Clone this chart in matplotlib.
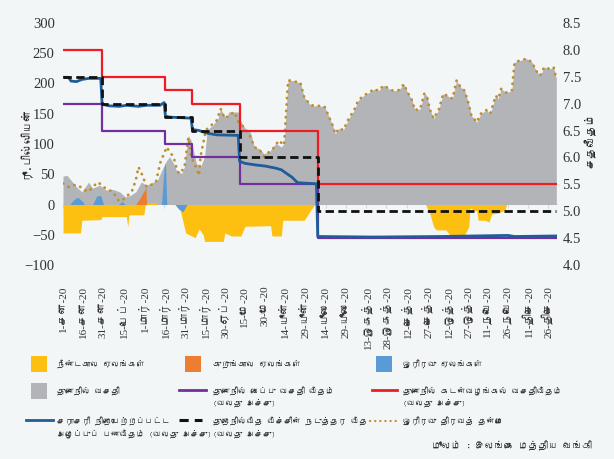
import matplotlib
matplotlib.use('Agg')
import matplotlib.pyplot as plt
from matplotlib import font_manager
from matplotlib.ft2font import FT2Font
from matplotlib.lines import Line2D
from matplotlib.patches import Rectangle
import numpy as np
import pandas as pd


def find_tamil_font():
    # look for any installed face that has Tamil glyphs
    for f in font_manager.fontManager.ttflist:
        try:
            if 0x0BA4 in FT2Font(f.fname).get_charmap():
                return f.name
        except Exception:
            continue
    return None


TAMIL = find_tamil_font()
SANS = ([TAMIL] if TAMIL else []) + ['DejaVu Sans']
SERIF = ['Liberation Serif'] + ([TAMIL] if TAMIL else []) + ['DejaVu Sans']

# ---- data (days counted from 1 Jan 2020) ----
standing_days = [0, 3, 6, 10, 14, 19, 22, 27, 32, 37, 42, 46, 50, 54, 58, 62, 67, 70, 74, 77,
                 79, 82, 84, 88, 90, 93, 95, 99, 102, 105, 107, 111, 115, 117, 121, 123, 130, 132, 136, 139,
                 142, 146, 149, 153, 158, 162, 164, 167, 170, 174, 176, 179, 183, 186, 190, 194, 197, 200, 202, 205,
                 208, 212, 216, 219, 223, 227, 231, 234, 238, 242, 245, 249, 253, 255, 259, 261, 265, 268, 270, 272,
                 275, 279, 282, 285, 289, 292, 295, 298, 301, 303, 307, 310, 314, 317, 321, 323, 325, 329, 333, 335,
                 339, 344, 348, 351, 354, 357, 361, 364, 366]
standing_vals = [47, 48, 40, 29, 21, 37, 27, 32, 24, 25, 21, 13, 15, 21, 37, 32, 37, 40, 60, 73,
                 79, 68, 57, 51, 62, 114, 106, 68, 62, 79, 123, 131, 142, 158, 142, 153, 153, 137, 123, 120,
                 95, 92, 84, 87, 101, 95, 101, 205, 205, 202, 202, 177, 166, 163, 163, 162, 147, 131, 117, 126,
                 123, 142, 156, 172, 180, 185, 191, 188, 197, 191, 188, 189, 199, 188, 172, 156, 158, 183, 180, 158,
                 142, 158, 183, 180, 175, 205, 194, 188, 166, 147, 136, 150, 156, 150, 180, 175, 191, 185, 188, 235,
                 238, 241, 235, 221, 213, 227, 224, 227, 208]

# overnight liquidity before mid-June (afterwards it equals the standing facility)
liq_days_early = [0, 4, 7, 11, 16, 19, 22, 26, 30, 34, 37, 41, 43, 47, 51, 54, 56, 59, 62, 65,
                  69, 72, 74, 77, 79, 82, 84, 86, 90, 93, 95, 98, 101, 102, 106, 110, 114, 117, 120, 123,
                  127, 130, 134, 138, 142, 146, 149, 153, 157, 160, 164]
liq_vals_early = [35, 29, 32, 32, 24, 21, 29, 37, 29, 24, 21, 7, 5, 13, 21, 40, 62, 48, 29, 32,
                  37, 68, 79, 95, 87, 79, 62, 51, 60, 111, 79, 65, 48, 79, 123, 131, 139, 158, 142, 147,
                  153, 137, 128, 117, 95, 90, 79, 87, 95, 106, 98]

long_days = [0, 13, 14, 28, 29, 47, 48, 49, 60, 61, 64, 69, 70, 86, 91, 98, 101, 104, 105, 119,
             120, 125, 132, 135, 154, 155, 162, 163, 179, 183, 186, 187, 269, 272, 275, 277, 284, 287, 298, 301,
             302, 307, 308, 313, 316, 318, 323, 328, 329, 366]
long_vals = [-47, -47, -26, -25, -20, -20, -37, -17, -17, 0, 3, 3, 0, 0, -47, -55, -40, -50, -61, -61,
             -47, -52, -52, -36, -35, -52, -52, -26, -26, -12, -2, 0, 0, -14, -37, -42, -42, -50, -50, -37,
             -6, -11, -26, -26, -29, -16, -14, -9, 0, 0]

short_days = [54, 57, 60, 61.5, 62]
short_vals = [0, 10, 22, 28, 0]

overnight_days = [5, 8, 11, 14, 16, 22, 25, 28, 30, 41, 44, 46, 73, 75, 76, 77, 83, 86, 89, 92]
overnight_vals = [0, 8, 12, 6, 0, 0, 14, 15, 0, 0, 5, 0, 0, 60, 70, 0, 0, -8, -12, 0]

# policy rates (right axis)
policy_days = [0, 29, 76, 96, 131, 189, 366]
slfr = [8.0, 7.5, 7.25, 7.0, 6.5, 5.5, 5.5]
sdfr = [7.0, 6.5, 6.25, 6.0, 5.5, 4.5, 4.5]
corridor_mid = [7.5, 7.0, 6.75, 6.5, 6.0, 5.0, 5.0]

awcmr_days = [0, 4, 6, 10, 14, 19, 28, 29, 34, 42, 47, 56, 62, 72, 75, 76, 79, 95, 96, 101,
              107, 114, 130, 131, 135, 143, 150, 158, 162, 166, 170, 174, 188, 189, 230, 280, 330, 335, 366]
awcmr = [7.49, 7.49, 7.42, 7.41, 7.45, 7.47, 7.47, 6.99, 6.96, 6.95, 6.97, 6.95, 6.97, 6.97, 7.02, 6.77, 6.75, 6.73, 6.52, 6.50,
         6.45, 6.42, 6.41, 5.93, 5.89, 5.86, 5.84, 5.80, 5.77, 5.70, 5.63, 5.53, 5.51, 4.53, 4.52, 4.53, 4.55, 4.53, 4.54]

tick_labels = ['1-சன-20', '16-சன-20', '31-சன-20', '15-பெப்-20', '1-மார்-20', '16-மார்-20',
               '31-மார்-20', '15-மார்-20', '30-ஏப்-20', '15-மே-20', '30-மே-20', '14-யூன்-20',
               '29-யூன்-20', '14-யூலை-20', '29-யூலை-20', '13-ஓகத்-20', '28-ஓகத்-20', '12-செத்-20',
               '27-செத்-20', '12-ஒத்-20', '27-ஒத்-20', '11-நவெ-20', '26-நவெ-20', '11-திசெ-20', '26-திசெ-20']

BASE = pd.Timestamp('2020-01-01')


def to_dates(days):
    return (BASE + pd.to_timedelta(np.asarray(days, dtype=float), unit='D')).to_numpy()


BG = '#F3F6F6'
GREY = '#B3B4B7'
YELLOW = '#FDC010'
ORANGE = '#ED7D31'
LBLUE = '#5B9BD5'
PURPLE = '#7030A0'
RED = '#EE1C25'
DBLUE = '#1F5C99'
GOLD = '#BF8E30'
DOTS = (0, (0.1, 2.2))

W, H = 614, 459


def box(l, t, r, b):
    return [l / W, 1 - b / H, (r - l) / W, (b - t) / H]


fig = plt.figure(figsize=(6.14, 4.59), dpi=100, facecolor=BG)
ax = fig.add_axes(box(63, 23, 557, 265))
ax.set_facecolor('none')

ax.fill_between(to_dates(standing_days), standing_vals, 0, color=GREY, lw=0, zorder=1)
ax.fill_between(to_dates(long_days), long_vals, 0, color=YELLOW, lw=0, zorder=2)
ax.fill_between(to_dates(short_days), short_vals, 0, color=ORANGE, lw=0, zorder=2)
ax.fill_between(to_dates(overnight_days), overnight_vals, 0, color=LBLUE, lw=0, zorder=2)

idx = standing_days.index(167)
liq_days = liq_days_early + standing_days[idx:]
liq_vals = liq_vals_early + standing_vals[idx:]
ax.plot(to_dates(liq_days), liq_vals, color=GOLD, lw=2.0, ls=DOTS,
        dash_capstyle='round', zorder=3)

ax.set_ylim(-100, 300)
ax.set_yticks(range(-100, 301, 50))
ax.set_xlim(BASE, BASE + pd.Timedelta(days=366.5))
tick_dates = pd.date_range('2020-01-01', periods=len(tick_labels), freq='15D')
ax.set_xticks(tick_dates)
ax.set_xticklabels(tick_labels, rotation=90, fontsize=8)
for lbl in ax.get_xticklabels():
    lbl.set_fontfamily(SERIF)
    lbl.set_color('#333333')
for lbl in ax.get_yticklabels():
    lbl.set_fontfamily(['Liberation Serif'])
    lbl.set_fontsize(10.5)
    lbl.set_color('#333333')
ax.tick_params(axis='x', length=0, pad=15)
ax.tick_params(axis='y', length=0, pad=6)
for s in ax.spines.values():
    s.set_visible(False)

# category axis line at zero
zero_axis = ax.secondary_xaxis(0.25)
zero_axis.set_xticks(tick_dates)
zero_axis.set_xticklabels([''] * len(tick_dates))
zero_axis.tick_params(length=3, color='#D9D9D9', width=0.8)
zero_axis.spines['bottom'].set_color('#D9D9D9')
zero_axis.spines['bottom'].set_linewidth(0.8)

ax2 = ax.twinx()
ax2.step(to_dates(policy_days), sdfr, where='post', color=PURPLE, lw=1.6)
ax2.step(to_dates(policy_days), slfr, where='post', color=RED, lw=1.6)
ax2.plot(to_dates(awcmr_days), awcmr, color=DBLUE, lw=2.0)
ax2.step(to_dates(policy_days), corridor_mid, where='post', color='#111111', lw=2.0,
         ls=(0, (3, 1.6)))
ax2.set_ylim(4.0, 8.5)
ax2.set_yticks(np.arange(4.0, 8.51, 0.5))
ax2.set_yticklabels([f'{v:.1f}' for v in np.arange(4.0, 8.51, 0.5)])
for lbl in ax2.get_yticklabels():
    lbl.set_fontfamily(['Liberation Serif'])
    lbl.set_fontsize(10.5)
    lbl.set_color('#333333')
ax2.tick_params(axis='y', length=0, pad=4)
for s in ax2.spines.values():
    s.set_visible(False)

fig.text(25 / W, 1 - 143 / H, 'ரூ.பில்லியன்', rotation=90, ha='center', va='center',
         fontsize=8, family=SANS, color='#222222')
fig.text(590 / W, 1 - 140 / H, 'சதவீதம்', rotation=90, ha='center', va='center',
         fontsize=8, family=SANS, color='#222222')

# ---- legend drawn by hand (three aligned columns) ----
TXT = dict(fontsize=6.0, family=SANS, color='#333333', va='center', ha='left')


def square(x, y, color):
    fig.add_artist(Rectangle((x / W, 1 - (y + 8) / H), 16 / W, 16 / H,
                             transform=fig.transFigure, color=color, lw=0))


def keyline(x0, x1, y, **kw):
    fig.add_artist(Line2D([x0 / W, x1 / W], [1 - y / H, 1 - y / H],
                          transform=fig.transFigure, **kw))


square(31, 364, YELLOW)
fig.text(57 / W, 1 - 364 / H, 'நீண்டகால ஏலங்கள்', **TXT)
square(185, 364, ORANGE)
fig.text(213 / W, 1 - 364 / H, 'குறுங்கால ஏலங்கள்', **TXT)
square(376, 364, LBLUE)
fig.text(403 / W, 1 - 364 / H, 'ஓரிரவு ஏலங்கள்', **TXT)

square(31, 391, GREY)
fig.text(57 / W, 1 - 391 / H, 'துணைநில் வசதி', **TXT)
keyline(179, 206, 390, color=PURPLE, lw=2)
fig.text(213 / W, 1 - 396.5 / H, 'துணைநில் வைப்பு வசதி வீதம்\n(வலது அச்சு)', linespacing=1.6, **TXT)
keyline(372, 397, 390, color=RED, lw=2)
fig.text(403 / W, 1 - 396.5 / H, 'துணைநில் கடன்வழங்கல் வசதிவீதம்\n(வலது அச்சு)', linespacing=1.6, **TXT)

keyline(26, 53, 420, color=DBLUE, lw=2)
fig.text(57 / W, 1 - 427 / H, 'சராசரி நிறையேற்றப்பட்ட\nஅழைப்புப் பணவீதம் (வலது அச்சு)', linespacing=1.6, **TXT)
keyline(179, 202, 420, color='#111111', lw=2.2, ls=(0, (3, 2)))
fig.text(213 / W, 1 - 427 / H, 'துறைநில்வீத வீச்சின் நடுத்தர வீத\n(வலது அச்சு)', linespacing=1.6, **TXT)
keyline(370, 398, 421, color=GOLD, lw=1.6, ls=DOTS, dash_capstyle='round')
fig.text(403 / W, 1 - 421 / H, 'ஓரிரவு திரவத் தன்மை', **TXT)

# source note: italic "மூலம் :" followed by the bank name
src = fig.text(592 / W, 1 - 446 / H, 'இலங்கை மத்திய வங்கி', fontsize=7, family=SANS,
               color='#333333', ha='right', va='center')
fig.canvas.draw()
bb = src.get_window_extent()
fig.text((bb.x0 - 4) / W, 1 - 446 / H, 'மூலம் :', fontsize=7, family=SANS, style='italic',
         color='#333333', ha='right', va='center')

fig.savefig('out.png', dpi=100, facecolor=BG)
